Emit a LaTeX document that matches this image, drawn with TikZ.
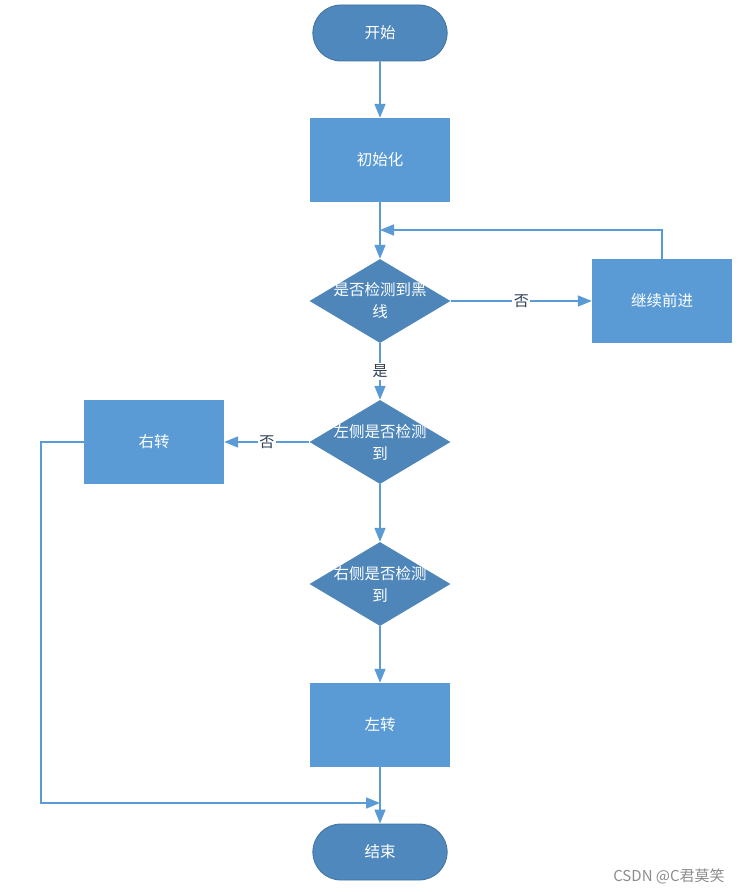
\documentclass[tikz,border=0pt]{standalone}
\usepackage{fontspec}
\newfontfamily\cjk{Noto Sans CJK SC}
\usetikzlibrary{shapes.geometric,shapes.misc,arrows.meta}
\newlength{\du}
\setlength{\du}{1pt}
\definecolor{pillcolor}{rgb}{0.310000, 0.533000, 0.741000}
\definecolor{pilledge}{rgb}{0.255000, 0.443000, 0.612000}
\definecolor{boxcolor}{rgb}{0.357000, 0.608000, 0.835000}
\definecolor{diacolor}{rgb}{0.306000, 0.525000, 0.729000}
\definecolor{linecolor}{rgb}{0.357000, 0.608000, 0.835000}
\definecolor{labelcolor}{rgb}{0.180000, 0.250000, 0.330000}
\tikzset{
  startstop/.style={rounded rectangle, fill=pillcolor, draw=pilledge, line width=0.8\du,
    minimum width=141\du, minimum height=56\du, text=white, font=\cjk\fontsize{15.5}{18}\selectfont},
  procbox/.style={rectangle, fill=boxcolor, minimum width=140\du, minimum height=84\du,
    text=white, font=\cjk\fontsize{15.5}{18}\selectfont},
  decision/.style={diamond, fill=diacolor, minimum width=141\du, minimum height=84\du, inner sep=0pt},
  dtext/.style={text=white, align=center, inner sep=0pt, font=\cjk\fontsize{15.5}{22}\selectfont},
  flow/.style={draw=linecolor, line width=1.6\du, -{Triangle[length=14pt,width=11pt]}},
  answer/.style={fill=white, text=labelcolor, inner sep=1.5\du, font=\cjk\fontsize{15}{16}\selectfont},
  watermark/.style={text=black!45, font=\cjk\fontsize{15}{16}\selectfont}
}

\begin{document}
\begin{tikzpicture}
\pgftransformxscale{1.000000}
\pgftransformyscale{-1.000000}
\useasboundingbox (0\du,0\du) rectangle (743\du,893\du);
% start and init
\node[startstop] (start) at (380\du,33\du) {开始};
\node[procbox] (init) at (380\du,160\du) {初始化};
% first test
\node[decision, label={[dtext]center:是否检测到黑\\线}] (line) at (380\du,301\du) {};
\node[procbox] (ahead) at (662\du,301\du) {继续前进};
% second test
\node[decision, label={[dtext]center:左侧是否检测\\到}] (left) at (380\du,442\du) {};
\node[procbox] (turnr) at (154\du,442\du) {右转};
% third test
\node[decision, label={[dtext]center:右侧是否检测\\到}] (right) at (380\du,584\du) {};
\node[procbox] (turnl) at (380\du,725\du) {左转};
\node[startstop] (stop) at (380\du,852\du) {结束};
% free ends
\coordinate (back) at (380\du,230\du);
\coordinate (join) at (380\du,803\du);
% connectors
\draw[flow] (start) -- (init);
\draw[flow] (init) -- (line);
\draw[flow] (line.east) -- node[answer]{否} (ahead.west);
\draw[flow] (ahead.north) |- (back);
\draw[flow] (line.south) -- node[answer]{是} (left.north);
\draw[flow] (left.west) -- node[answer]{否} (turnr.east);
\draw[flow] (turnr.west) -- ++(-43\du,0\du) |- (join);
\draw[flow] (left.south) -- (right.north);
\draw[flow] (right.south) -- (turnl.north);
\draw[flow] (turnl) -- (stop);
% setfont watermark
\node[watermark] (mark) at (669\du,876\du) {CSDN @C君莫笑};
\end{tikzpicture}
\end{document}
